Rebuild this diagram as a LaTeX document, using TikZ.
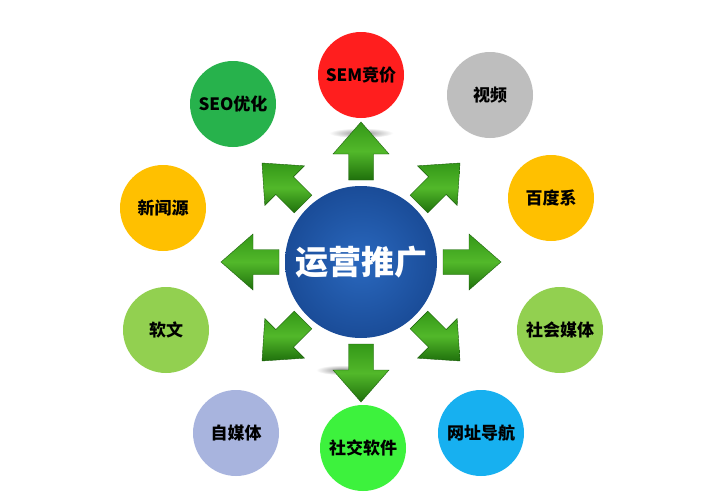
\documentclass[tikz,border=0pt]{standalone}
\usepackage{fontspec}
\newfontfamily\cjk{Noto Sans CJK SC}
\usetikzlibrary{shapes.geometric}
\definecolor{cRed}{HTML}{FF1E1E}
\definecolor{cGray}{HTML}{BEBEBE}
\definecolor{cGold}{HTML}{FFC000}
\definecolor{cLime}{HTML}{92D050}
\definecolor{cCyan}{HTML}{17B0F0}
\definecolor{cBright}{HTML}{3DF23D}
\definecolor{cLav}{HTML}{A8B4DE}
\definecolor{cSeo}{HTML}{27B24C}
\definecolor{cBlueIn}{HTML}{2A68BE}
\definecolor{cBlueOut}{HTML}{1A4C98}
\definecolor{aDark}{HTML}{1F700C}
\definecolor{aMid}{HTML}{349818}
\definecolor{aLight}{HTML}{52B82A}
\tikzset{
  small/.style={circle, minimum size=86pt, inner sep=0pt, text=black,
    font=\cjk\bfseries\fontsize{17}{17}\selectfont},
  hub/.style={circle, minimum size=152pt, inner sep=0pt, text=white,
    inner color=cBlueIn, outer color=cBlueOut,
    font=\cjk\bfseries\fontsize{33}{33}\selectfont},
  arrowbody/.style={top color=aMid, bottom color=aDark, middle color=aLight,
    draw=aDark!85!black, line width=0.4pt},
  shadowblob/.style={inner color=black!45, outer color=white},
}
\newcommand{\greenarrow}[1]{%
  \begin{scope}[shift={(hubc)}, rotate=#1]
    \shade[arrowbody] (82,-12.5) -- (108,-12.5) -- (108,-28) -- (140,0)
      -- (108,28) -- (108,12.5) -- (82,12.5) -- cycle;
  \end{scope}}
\begin{document}
\begin{tikzpicture}[x=1pt, y=-1pt]
\useasboundingbox (0,0) rectangle (716,498);
\fill[white] (0,0) rectangle (716,498);
\coordinate (hubc) at (361,262);
% shadows
\shade[shadowblob] (361,133) ellipse [x radius=32, y radius=5];
\shade[shadowblob] (342,370) ellipse [x radius=26, y radius=5];
% arrows
\foreach \a in {0,45,...,315} { \greenarrow{\a} }
% hub
\node[hub] (hub) at (hubc) {运营推广};
% outer circles
\node[small, fill=cRed]    (sem)  at (361,75)  {SEM竞价};
\node[small, fill=cGray]   (vid)  at (490,95)  {视频};
\node[small, fill=cGold]   (bd)   at (551,198) {百度系};
\node[small, fill=cLime]   (shmt) at (560,330) {社会媒体};
\node[small, fill=cCyan]   (wz)   at (481,433) {网址导航};
\node[small, fill=cBright] (sj)   at (363,448) {社交软件};
\node[small, fill=cLav]    (zmt)  at (236,433) {自媒体};
\node[small, fill=cLime]   (rw)   at (166,330) {软文};
\node[small, fill=cGold]   (xwy)  at (163,208) {新闻源};
\node[small, fill=cSeo]    (seo)  at (233,104) {SEO优化};
\end{tikzpicture}
\end{document}
